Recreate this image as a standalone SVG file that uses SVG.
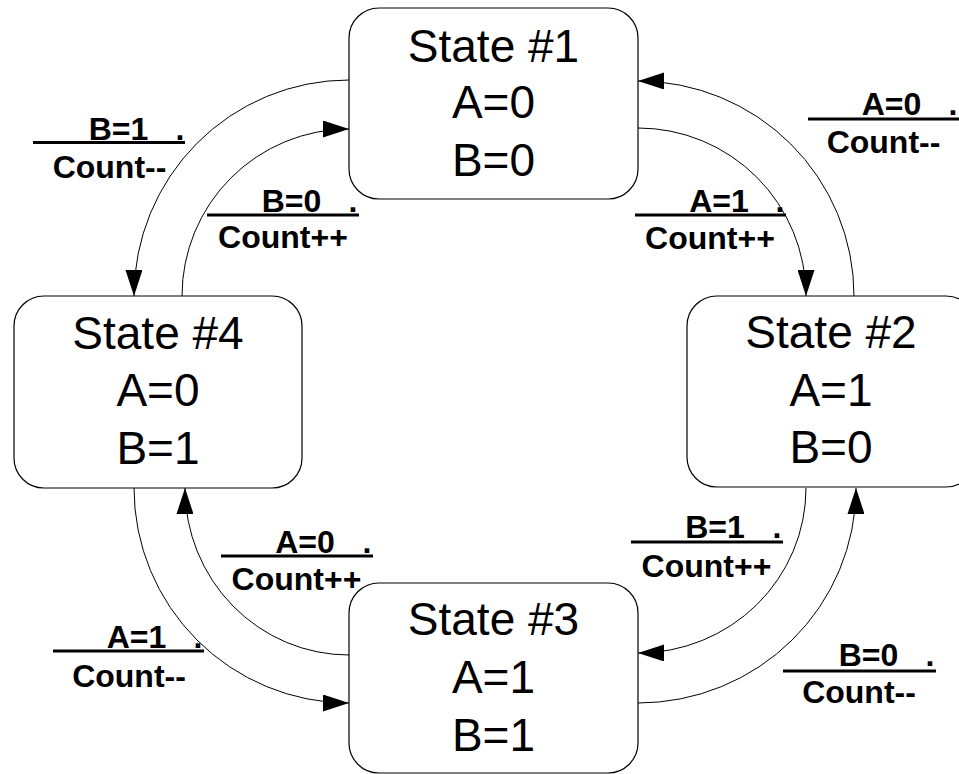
<svg xmlns="http://www.w3.org/2000/svg" width="959" height="774" viewBox="0 0 959 774">
  <style>
    .box { fill: #fff; stroke: #000; stroke-width: 1.2; }
    .st { font-family: "Liberation Sans", Arial, sans-serif; font-size: 46px; text-anchor: middle; fill: #000; }
    .edge { fill: none; stroke: #000; stroke-width: 1; marker-end: url(#arrow); }
    .lbl { font-family: "Liberation Sans", Arial, sans-serif; font-size: 32px; font-weight: bold; text-anchor: middle; fill: #000; }
    .bar { stroke: #000; stroke-width: 3; }
  </style>
  <defs>
    <marker id="arrow" markerUnits="userSpaceOnUse" markerWidth="26" markerHeight="17" refX="26" refY="8.5" orient="auto">
      <path d="M0,0 L26,8.5 L0,17 Z" fill="#000"/>
    </marker>
  </defs>

  <rect width="959" height="774" fill="#fff"/>

  <!-- transitions -->
  <g id="connectors">
    <path class="edge" d="M349,80 A215,216 0 0 0 134,296"/>
    <path class="edge" d="M182,296 A167,167 0 0 1 349,129"/>
    <path class="edge" d="M638,128 A168,168 0 0 1 806,296"/>
    <path class="edge" d="M854,296 A216,215 0 0 0 638,81"/>
    <path class="edge" d="M806,488 A168,165 0 0 1 638,653"/>
    <path class="edge" d="M638,703 A218,215 0 0 0 856,488"/>
    <path class="edge" d="M134,488 A215,215 0 0 0 349,703"/>
    <path class="edge" d="M349,655 A164,167 0 0 1 185,488"/>
  </g>

  <!-- transition labels: condition over action -->
  <g id="labels">
    <g id="lbl-1-4">
      <text class="lbl" x="118.5" y="140">B=1<tspan x="180">.</tspan></text>
      <line class="bar" x1="33" y1="142.5" x2="185" y2="142.5"/>
      <text class="lbl" x="109.5" y="178">Count--</text>
    </g>
    <g id="lbl-4-1">
      <text class="lbl" x="291.5" y="212">B=0<tspan x="353">.</tspan></text>
      <line class="bar" x1="207" y1="215" x2="359" y2="215"/>
      <text class="lbl" x="283" y="248">Count++</text>
    </g>
    <g id="lbl-2-1">
      <text class="lbl" x="891.5" y="115">A=0<tspan x="953">.</tspan></text>
      <line class="bar" x1="808" y1="119" x2="959" y2="119"/>
      <text class="lbl" x="883.5" y="153">Count--</text>
    </g>
    <g id="lbl-1-2">
      <text class="lbl" x="719" y="212">A=1<tspan x="780">.</tspan></text>
      <line class="bar" x1="635" y1="215" x2="786" y2="215"/>
      <text class="lbl" x="710" y="249">Count++</text>
    </g>
    <g id="lbl-2-3">
      <text class="lbl" x="715" y="538">B=1<tspan x="777">.</tspan></text>
      <line class="bar" x1="631" y1="542" x2="783" y2="542"/>
      <text class="lbl" x="706.5" y="577">Count++</text>
    </g>
    <g id="lbl-3-2">
      <text class="lbl" x="868.5" y="666">B=0<tspan x="930">.</tspan></text>
      <line class="bar" x1="783" y1="671" x2="936" y2="671"/>
      <text class="lbl" x="859" y="703">Count--</text>
    </g>
    <g id="lbl-3-4">
      <text class="lbl" x="305" y="553">A=0<tspan x="367">.</tspan></text>
      <line class="bar" x1="221" y1="556" x2="373" y2="556"/>
      <text class="lbl" x="296.5" y="590">Count++</text>
    </g>
    <g id="lbl-4-3">
      <text class="lbl" x="136.5" y="648">A=1<tspan x="198">.</tspan></text>
      <line class="bar" x1="53" y1="651" x2="204" y2="651"/>
      <text class="lbl" x="129" y="687">Count--</text>
    </g>
  </g>

  <!-- states -->
  <g id="state1">
    <rect class="box" x="349" y="8" width="289" height="191" rx="30" ry="30"/>
    <text class="st" x="493.5" y="62">State #1</text>
    <text class="st" x="493.5" y="118">A=0</text>
    <text class="st" x="493.5" y="176">B=0</text>
  </g>
  <g id="state2">
    <rect class="box" x="687" y="296" width="289" height="191" rx="30" ry="30"/>
    <text class="st" x="831" y="348">State #2</text>
    <text class="st" x="831" y="406">A=1</text>
    <text class="st" x="831" y="463">B=0</text>
  </g>
  <g id="state3">
    <rect class="box" x="349" y="583" width="289" height="190" rx="30" ry="30"/>
    <text class="st" x="493.5" y="635">State #3</text>
    <text class="st" x="493.5" y="693">A=1</text>
    <text class="st" x="493.5" y="751">B=1</text>
  </g>
  <g id="state4">
    <rect class="box" x="14" y="296" width="288" height="192" rx="30" ry="30"/>
    <text class="st" x="158" y="349">State #4</text>
    <text class="st" x="158" y="406">A=0</text>
    <text class="st" x="158" y="464">B=1</text>
  </g>
</svg>
